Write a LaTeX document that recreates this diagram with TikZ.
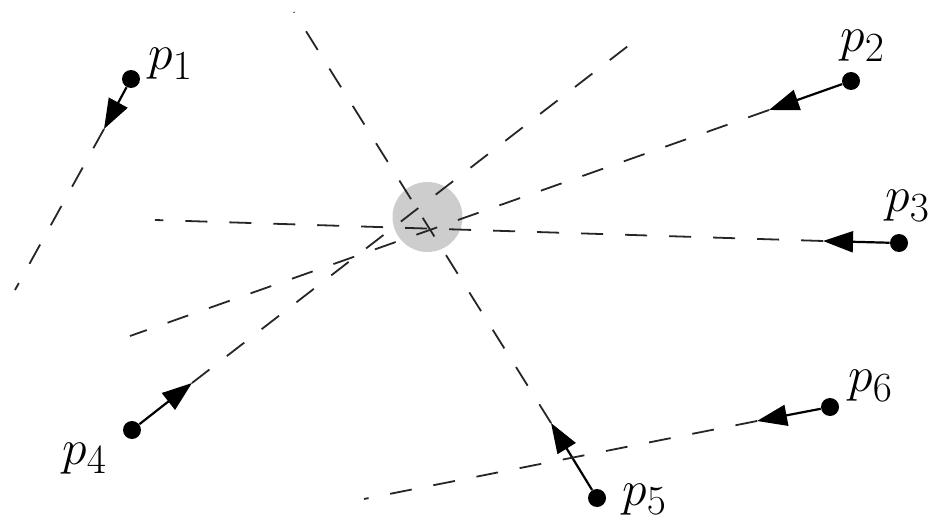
\documentclass[tikz,border=0pt]{standalone}
\usetikzlibrary{arrows.meta}
\definecolor{disk}{RGB}{205,205,205}
\begin{document}
\begin{tikzpicture}[x=0.5pt,y=-0.5pt,
  trail/.style={dash pattern=on 11pt off 11pt, line width=0.9pt, black!85},
  vel/.style={-{Triangle[length=15pt,width=10.5pt]}, line width=1.1pt},
  dot/.style={circle, fill=black, inner sep=0pt, minimum size=9pt},
  lab/.style={anchor=base west, inner sep=0pt, font=\fontsize{31}{36}\selectfont}]
\useasboundingbox (0,0) rectangle (932,524);
\node[circle, fill=disk, inner sep=0pt, minimum size=35pt] (c) at (427.5,217) {};
% particles
\node[dot] (p1) at (131,79) {};
\node[dot] (p2) at (851,81) {};
\node[dot] (p3) at (899,243) {};
\node[dot] (p4) at (132,430) {};
\node[dot] (p5) at (597,498) {};
\node[dot] (p6) at (830,407) {};
% arrow tips
\coordinate (t1) at (104,129);
\coordinate (t2) at (769,110);
\coordinate (t3) at (823,241);
\coordinate (t4) at (192,383);
\coordinate (t5) at (551,423);
\coordinate (t6) at (757,421);
% trail ends
\coordinate (e1) at (15,290);
\coordinate (e2) at (130,336);
\coordinate (e3) at (155,220);
\coordinate (e4) at (628,46);
\coordinate (e5) at (294,12);
\coordinate (e6) at (364,499);
\foreach \i in {1,...,6}{
  \draw[trail] (t\i) -- (e\i);
  \draw[vel] (p\i) -- (t\i);
}
% labels
\node[lab] (l1) at (148,69.5) {$p_1$};
\node[lab] (l2) at (840,51.5) {$p_2$};
\node[lab] (l3) at (885,211.5) {$p_3$};
\node[lab] (l4) at (62,464) {$p_4$};
\node[lab] (l5) at (622,505) {$p_5$};
\node[lab] (l6) at (848,391.5) {$p_6$};
\end{tikzpicture}
\end{document}
